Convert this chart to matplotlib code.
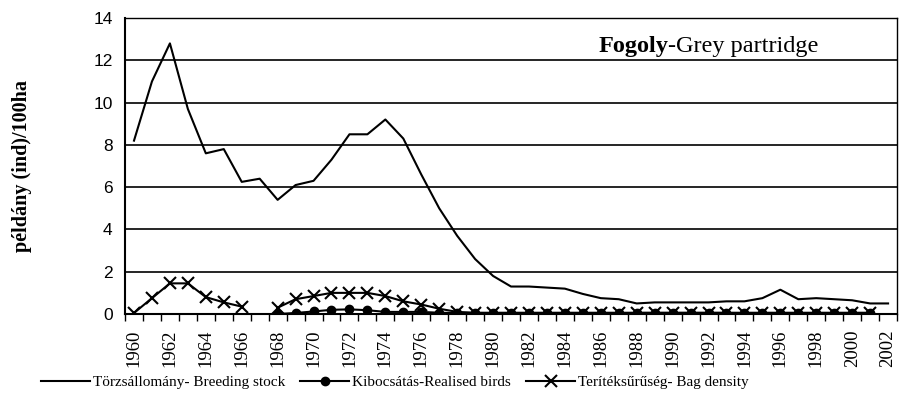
import numpy as np
import matplotlib
matplotlib.use("Agg")
import matplotlib.pyplot as plt
from matplotlib.ticker import FixedLocator

years = list(range(1960, 2003))

# Törzsállomány - breeding stock
breeding = [8.2, 11.0, 12.8, 9.7, 7.6, 7.8, 6.25, 6.4, 5.4, 6.1,
            6.3, 7.3, 8.5, 8.5, 9.2, 8.3, 6.6, 5.0, 3.7, 2.6,
            1.8, 1.3, 1.3, 1.25, 1.2, 0.95, 0.75, 0.7, 0.5, 0.55,
            0.55, 0.55, 0.55, 0.6, 0.6, 0.75, 1.15, 0.7, 0.75, 0.7,
            0.65, 0.5, 0.5]

# Kibocsátás - realised birds (starts 1968, ends 2001)
realised = [None] * 8 + [0.0, 0.05, 0.12, 0.2, 0.22, 0.18, 0.1, 0.1,
                         0.1, 0.06, 0.05, 0.05, 0.04, 0.04, 0.04, 0.04,
                         0.04, 0.04, 0.04, 0.04, 0.05, 0.05, 0.05, 0.05,
                         0.05, 0.05, 0.04, 0.04, 0.04, 0.04, 0.04, 0.04,
                         0.04, 0.04] + [None]

# Terítéksűrűség - bag density (gap in 1967)
bag = [0.05, 0.75, 1.45, 1.45, 0.8, 0.55, 0.35, None, 0.3, 0.7,
       0.85, 1.0, 1.0, 1.0, 0.85, 0.6, 0.45, 0.25, 0.1, 0.06,
       0.06, 0.06, 0.06, 0.06, 0.06, 0.06, 0.06, 0.06, 0.06, 0.06,
       0.06, 0.06, 0.06, 0.06, 0.06, 0.06, 0.06, 0.06, 0.06, 0.06,
       0.06, 0.06, None]

def arr(v):
    return np.array([np.nan if a is None else a for a in v], dtype=float)

serif = "Liberation Serif"
sans = "Liberation Sans"

fig = plt.figure(figsize=(9.04, 4.03), dpi=100)
ax = fig.add_axes([0.1383, 0.2208, 0.854, 0.7345])

x = np.arange(len(years))
ax.plot(x, arr(breeding), color="black", lw=1.5, label="Törzsállomány- Breeding stock")
ax.plot(x, arr(realised), color="black", lw=1.5, marker="o", ms=6,
        label="Kibocsátás-Realised birds")
ax.plot(x, arr(bag), color="black", lw=1.5, marker="x", ms=9, mew=1.5,
        label="Terítéksűrűség- Bag density")

ax.set_xlim(-0.5, len(years) - 0.5)
ax.set_ylim(0, 14)
ax.set_yticks(range(0, 15, 2))
ax.yaxis.grid(True, color="black", lw=1.2)
ax.set_axisbelow(True)

ax.set_xticks(x[::2])
ax.set_xticklabels([str(y) for y in years[::2]], rotation=90, fontsize=13.5,
                   family=serif)
ax.xaxis.set_minor_locator(FixedLocator(np.arange(-0.5, len(years), 1)))
ax.tick_params(axis="x", which="major", length=0, pad=11)
ax.tick_params(axis="x", which="minor", length=5, width=1, direction="out")
ax.tick_params(axis="y", length=0, labelsize=12.5, pad=9)
for lab in ax.get_yticklabels():
    lab.set_family(sans)

for s in ["left", "bottom"]:
    ax.spines[s].set_linewidth(1.5)
for s in ["top", "right"]:
    ax.spines[s].set_linewidth(1.0)
    ax.spines[s].set_linestyle((0, (6, 1)))

ax.set_ylabel("példány (ind)/100ha", family=serif, fontweight="bold",
              fontsize=14.5)
ax.yaxis.set_label_coords(-0.12, 0.5)

t1 = ax.text(0.613, 0.885, "Fogoly", transform=ax.transAxes, family=serif,
             fontweight="bold", fontsize=17.5, ha="left", va="baseline")
ax.annotate("-Grey partridge", xy=(1, 0), xycoords=t1, family=serif,
            fontsize=17.5, ha="left", va="bottom")

fig.legend(loc="lower left", bbox_to_anchor=(0.03, 0.0), ncol=3, frameon=False,
           prop={"family": serif, "size": 11}, handlelength=3.2,
           columnspacing=1.0, handletextpad=0.2)

fig.savefig("out.png", dpi=100)
